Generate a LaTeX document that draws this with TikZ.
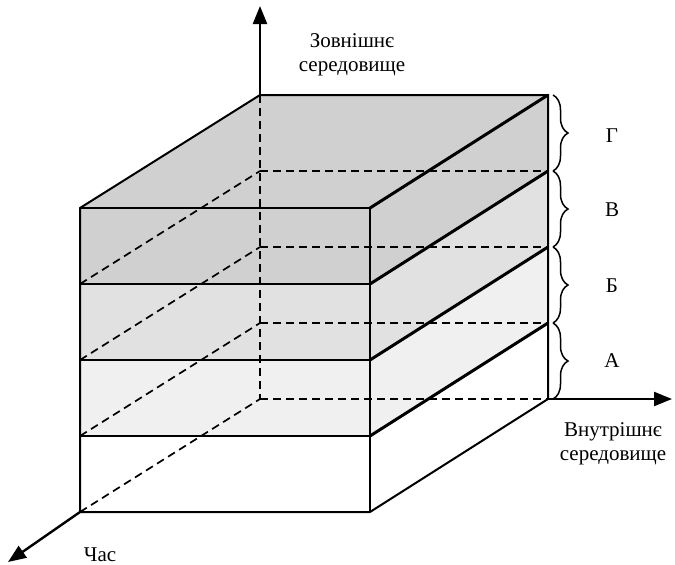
\documentclass[tikz,border=0pt]{standalone}
\usepackage{fontspec}
\setmainfont{Liberation Serif}
\usetikzlibrary{arrows.meta,decorations.pathreplacing}
\definecolor{layerD}{RGB}{208,208,208}
\definecolor{layerC}{RGB}{225,225,225}
\definecolor{layerB}{RGB}{240,240,240}
\definecolor{layerA}{RGB}{255,255,255}
\tikzset{
  edge/.style={line width=2pt},
  boldedge/.style={line width=3pt},
  hidden/.style={line width=1.7pt, dash pattern=on 8pt off 5pt},
  axis/.style={line width=2.4pt, -{Triangle[length=18pt,width=14pt]}},
  lbl/.style={font=\fontsize{21}{24}\selectfont, align=center, inner sep=0pt},
  bracket/.style={line width=1.5pt, decorate, decoration={brace, amplitude=15pt}},
}
\begin{document}
\begin{tikzpicture}[x=1pt, y=-1pt]
\useasboundingbox (0,0) rectangle (675,565);
% box corners: front face (f), back face (b); levels 0 (top) .. 4 (bottom)
\foreach \k/\yf/\yb in {0/208/95,1/284/171,2/360/247,3/436/323,4/512/399}{
  \coordinate (fl\k) at (80,\yf);
  \coordinate (fr\k) at (370,\yf);
  \coordinate (bl\k) at (260,\yb);
  \coordinate (br\k) at (548,\yb);
}
% axis end points
\coordinate (up) at (260,6);
\coordinate (right) at (672,399);
\coordinate (down) at (8,562);

% top face
\fill[layerD] (fl0) -- (bl0) -- (br0) -- (fr0) -- cycle;
% layer fills: front face and right face of each layer
\foreach \k/\n/\c in {0/1/layerD,1/2/layerC,2/3/layerB,3/4/layerA}{
  \fill[\c] (fl\k) -- (fr\k) -- (br\k) -- (br\n) -- (fr\n) -- (fl\n) -- cycle;
}

% hidden edges
\draw[hidden] (bl0) -- (bl4);
\foreach \k in {1,2,3,4}{
  \draw[hidden] (fl\k) -- (bl\k);
  \draw[hidden] (bl\k) -- (br\k);
}

% visible edges
\draw[edge] (fl0) -- (bl0) -- (br0) -- (br4) -- (fr4) -- (fl4) -- cycle;
\draw[edge] (fl0) -- (fr0) -- (fr4);
\foreach \k in {1,2,3}{
  \draw[edge] (fl\k) -- (fr\k);
}
\foreach \k in {0,1,2,3}{
  \draw[boldedge] (fr\k) -- (br\k);
}

% axes
\draw[axis] (bl0) -- (up);
\draw[axis] (br4) -- (right);
\draw[axis] (fl4) -- (down);

% axis labels
\node[lbl] (ext) at (352,55) {Зовнішнє\\середовище};
\node[lbl] (int) at (613,444) {Внутрішнє\\середовище};
\node[lbl] (time) at (100,555) {Час};

% layer braces and their labels
\foreach \k/\n/\t/\yy in {0/1/Г/136,1/2/В/210,2/3/Б/286,3/4/А/361}{
  \draw[bracket] ([xshift=5pt]br\k) -- ([xshift=5pt]br\n);
  \node[lbl] (lab\k) at (612,\yy) {\t};
}
\end{tikzpicture}
\end{document}
